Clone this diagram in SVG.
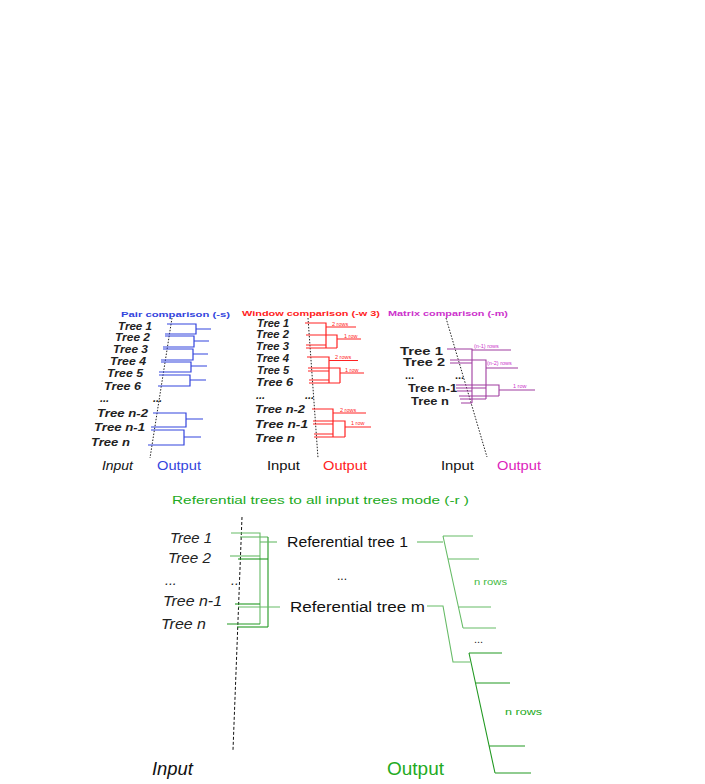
<svg xmlns="http://www.w3.org/2000/svg" width="705" height="784" viewBox="0 0 705 784">
<style>
text{font-family:"Liberation Sans",Arial,sans-serif;}
.tl{font-size:11px;font-weight:bold;font-style:italic;fill:#222;}
.tm{font-size:11px;font-weight:bold;fill:#222;}
.io{font-size:12px;fill:#111;}
.ob{font-size:12px;fill:#3344dd;}
.or{font-size:12px;fill:#ff2222;}
.om{font-size:12px;fill:#dd22bb;}
.ttl{font-size:8px;font-weight:bold;}
.sm{font-size:5.5px;}
.tb{font-size:14px;font-style:italic;fill:#222;}
.rf{font-size:14px;fill:#111;}
.dot{stroke:#222;stroke-width:1;fill:none;stroke-dasharray:1.5 1.5;}
.dash{stroke:#111;stroke-width:1;fill:none;stroke-dasharray:3 2;}
.b{stroke:#3344dd;stroke-width:1.2;fill:none;}
.r{stroke:#ff2222;stroke-width:1.2;fill:none;}
.p{stroke:#a03ca0;stroke-width:1.1;fill:none;}
.g1{stroke:#66bb66;stroke-width:1.1;fill:none;}
.g2{stroke:#229922;stroke-width:1.1;fill:none;}
</style>
<rect width="705" height="784" fill="#fff"/>

<!-- Panel 1: Pair comparison -->
<g id="pair-panel">
<text class="ttl" x="121" y="317" fill="#3344dd" textLength="109" lengthAdjust="spacingAndGlyphs">Pair comparison (-s)</text>
<g id="p1-tree1"><text class="tl" x="118" y="330" textLength="34" lengthAdjust="spacingAndGlyphs">Tree 1</text></g>
<g id="p1-tree2"><text class="tl" x="115" y="341" textLength="35" lengthAdjust="spacingAndGlyphs">Tree 2</text></g>
<g id="p1-tree3"><text class="tl" x="113" y="353" textLength="35" lengthAdjust="spacingAndGlyphs">Tree 3</text></g>
<g id="p1-tree4"><text class="tl" x="110" y="365" textLength="36" lengthAdjust="spacingAndGlyphs">Tree 4</text></g>
<g id="p1-tree5"><text class="tl" x="107" y="377" textLength="36" lengthAdjust="spacingAndGlyphs">Tree 5</text></g>
<g id="p1-tree6"><text class="tl" x="104" y="390" textLength="37" lengthAdjust="spacingAndGlyphs">Tree 6</text></g>
<text class="tl" x="100" y="402">...</text>
<g id="p1-treen2"><text class="tl" x="97" y="417" textLength="51" lengthAdjust="spacingAndGlyphs">Tree n-2</text></g>
<g id="p1-treen1"><text class="tl" x="94" y="431" textLength="51" lengthAdjust="spacingAndGlyphs">Tree n-1</text></g>
<g id="p1-treen"><text class="tl" x="91" y="446" textLength="39" lengthAdjust="spacingAndGlyphs">Tree n</text></g>
<text class="io" x="102" y="470" font-style="italic" textLength="31" lengthAdjust="spacingAndGlyphs">Input</text>
<text class="ob" x="157" y="470" textLength="44" lengthAdjust="spacingAndGlyphs">Output</text>
<line class="dot" x1="172" y1="318" x2="150" y2="458"/>
<text class="tl" x="153" y="402">...</text>
</g>

<!-- Panel 2: Window comparison -->
<g id="window-panel">
<text class="ttl" x="242" y="316" fill="#ff2222" textLength="138" lengthAdjust="spacingAndGlyphs">Window comparison (-w 3)</text>
<g id="p2-tree1"><text class="tl" x="257" y="327" textLength="32" lengthAdjust="spacingAndGlyphs">Tree 1</text></g>
<g id="p2-tree2"><text class="tl" x="256" y="338" textLength="33" lengthAdjust="spacingAndGlyphs">Tree 2</text></g>
<g id="p2-tree3"><text class="tl" x="256" y="350" textLength="33" lengthAdjust="spacingAndGlyphs">Tree 3</text></g>
<g id="p2-tree4"><text class="tl" x="256" y="362" textLength="33" lengthAdjust="spacingAndGlyphs">Tree 4</text></g>
<g id="p2-tree5"><text class="tl" x="257" y="374" textLength="32" lengthAdjust="spacingAndGlyphs">Tree 5</text></g>
<g id="p2-tree6"><text class="tl" x="256" y="386" textLength="37" lengthAdjust="spacingAndGlyphs">Tree 6</text></g>
<text class="tl" x="256" y="399">...</text>
<g id="p2-treen2"><text class="tl" x="255" y="413" textLength="50" lengthAdjust="spacingAndGlyphs">Tree n-2</text></g>
<g id="p2-treen1"><text class="tl" x="255" y="428" textLength="53" lengthAdjust="spacingAndGlyphs">Tree n-1</text></g>
<g id="p2-treen"><text class="tl" x="255" y="442" textLength="40" lengthAdjust="spacingAndGlyphs">Tree n</text></g>
<text class="io" x="267" y="470" textLength="33" lengthAdjust="spacingAndGlyphs">Input</text>
<text class="or" x="323" y="470" textLength="44" lengthAdjust="spacingAndGlyphs">Output</text>
<line class="dot" x1="308" y1="318" x2="318" y2="458"/>
<text class="tl" x="305" y="399">...</text>
<text class="sm" x="332" y="325.5" fill="#ff2222">2 rows</text>
<text class="sm" x="344" y="337.5" fill="#ff2222">1 row</text>
<text class="sm" x="335" y="359" fill="#ff2222">2 rows</text>
<text class="sm" x="345" y="371.5" fill="#ff2222">1 row</text>
<text class="sm" x="340" y="411.5" fill="#ff2222">2 rows</text>
<text class="sm" x="351" y="425" fill="#ff2222">1 row</text>
</g>

<!-- Panel 3: Matrix comparison -->
<g id="matrix-panel">
<text class="ttl" x="388" y="316" fill="#cc33cc" textLength="120" lengthAdjust="spacingAndGlyphs">Matrix comparison (-m)</text>
<g id="p3-tree1"><text class="tm" x="400" y="355" textLength="43" lengthAdjust="spacingAndGlyphs">Tree 1</text></g>
<g id="p3-tree2"><text class="tm" x="403" y="366" textLength="42" lengthAdjust="spacingAndGlyphs">Tree 2</text></g>
<text class="tm" x="405" y="379">...</text>
<g id="p3-treen1"><text class="tm" x="408" y="392" textLength="49" lengthAdjust="spacingAndGlyphs">Tree n-1</text></g>
<g id="p3-treen"><text class="tm" x="411" y="405" textLength="38" lengthAdjust="spacingAndGlyphs">Tree n</text></g>
<text class="io" x="441" y="470" textLength="33" lengthAdjust="spacingAndGlyphs">Input</text>
<text class="om" x="497" y="470" textLength="44" lengthAdjust="spacingAndGlyphs">Output</text>
<line class="dot" x1="446" y1="318" x2="487" y2="457"/>
<text class="tm" x="455" y="379">...</text>
<text class="sm" x="474" y="347.5" fill="#cc33cc">(n-1) rows</text>
<text class="sm" x="487" y="365" fill="#cc33cc">(n-2) rows</text>
<text class="sm" x="513" y="388" fill="#cc33cc">1 row</text>
</g>

<!-- Bottom panel: Referential -->
<g id="ref-panel">
<text x="172" y="504" font-size="11" fill="#22aa22" textLength="297" lengthAdjust="spacingAndGlyphs">Referential trees to all input trees mode (-r )</text>
<g id="r-tree1"><text class="tb" x="170" y="543" textLength="42" lengthAdjust="spacingAndGlyphs">Tree 1</text></g>
<g id="r-tree2"><text class="tb" x="168" y="563" textLength="43" lengthAdjust="spacingAndGlyphs">Tree 2</text></g>
<text class="tb" x="165" y="585">...</text>
<g id="r-treen1"><text class="tb" x="163" y="606" textLength="59" lengthAdjust="spacingAndGlyphs">Tree n-1</text></g>
<g id="r-treen"><text class="tb" x="161" y="629" textLength="45" lengthAdjust="spacingAndGlyphs">Tree n</text></g>
<text class="tb" x="231" y="585">..</text>
<line class="dash" x1="242" y1="517" x2="233" y2="750"/>
<g id="ref-tree-1"><text class="rf" x="287" y="547" textLength="121" lengthAdjust="spacingAndGlyphs">Referential tree 1</text></g>
<text x="337" y="580" font-size="12" fill="#111">...</text>
<g id="ref-tree-m"><text class="rf" x="290" y="612" textLength="135" lengthAdjust="spacingAndGlyphs">Referential tree m</text></g>
<text x="474" y="585" font-size="9" fill="#44bb44" textLength="33" lengthAdjust="spacingAndGlyphs">n rows</text>
<text x="474" y="643" font-size="11" fill="#222">...</text>
<text x="505" y="715" font-size="9" fill="#22aa22" textLength="37" lengthAdjust="spacingAndGlyphs">n rows</text>
<text x="152" y="775" font-size="19" font-style="italic" fill="#111" textLength="41" lengthAdjust="spacingAndGlyphs">Input</text>
<text x="387" y="775" font-size="19" fill="#22aa22" textLength="57" lengthAdjust="spacingAndGlyphs">Output</text>
</g>

<!-- Connectors -->
<g id="connectors">
<!-- Pair -->
<path class="b" d="M167 324H196V334H165M196 329H211"/>
<path class="b" d="M165 336H194V347H163M194 341H209"/>
<path class="b" d="M163 349H193V360H161M193 354H208"/>
<path class="b" d="M161 362H191V372H159M191 366H207"/>
<path class="b" d="M159 375H190V386H158M190 380H206"/>
<path class="b" d="M153 413H186V427H151M186 419H203"/>
<path class="b" d="M151 430H184V445H148M184 437H201"/>
<!-- Window -->
<path class="r" d="M305 323H326V348M306 335H337V348M306 345H326M306 348H337M326 327H356M337 339H361"/>
<path class="r" d="M307 357H329V383M308 368H340V383M308 371H329M309 380H329M309 383H340M329 360.5H358M340 373H364"/>
<path class="r" d="M312 409H333V437M313 421H345V437M313 424H333M314 434H333M314 437H345M333 413H366M345 427H371"/>
<!-- Matrix -->
<path class="p" d="M447 349H472V403M472 350H511"/>
<path class="p" d="M450 360H486V399M450 363H472M486 368H518"/>
<path class="p" d="M456 385H499V396M456 388H486M457 391H472M499 390H535"/>
<path class="p" d="M459 396H499M460 399H486M461 403H472"/>
<!-- Referential: input side -->
<path class="g1" d="M231 533H260V624"/>
<path class="g1" d="M240 537H268"/>
<path class="g2" d="M268 537V627"/>
<path class="g1" d="M230 556H260"/>
<path class="g2" d="M238 559H268"/>
<path class="g2" d="M235 604H260"/>
<path class="g2" d="M227 624H260"/>
<path class="g2" d="M237 627H268"/>
<path class="g1" d="M260 542H277"/>
<path class="g1" d="M238 607H280"/>
<!-- Referential: output side -->
<path class="g1" d="M417 542H443"/>
<path class="g1" d="M443 536L463 628M443 536H473M448 559H479M458 607H491M463 628H496"/>
<path class="g1" d="M427 606H443L453 662H470"/>
<path class="g2" d="M469 653L495 773M469 653H502M475 683H510M489 746H525M495 773H531"/>
</g>
</svg>
